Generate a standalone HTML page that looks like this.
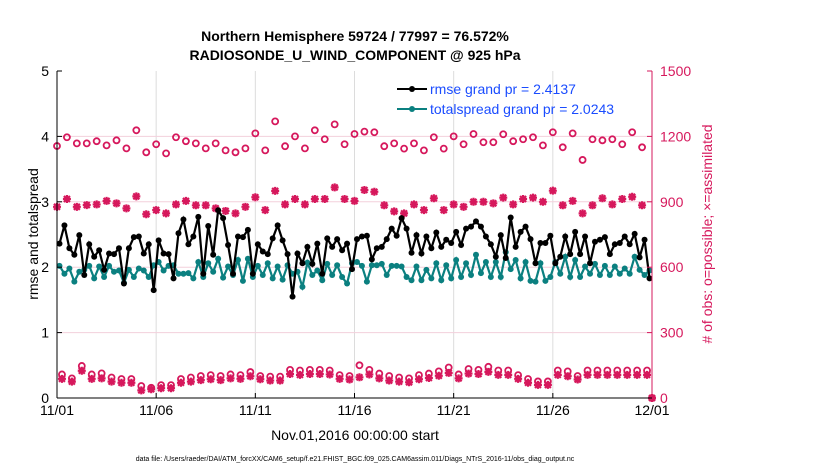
<!DOCTYPE html>
<html><head><meta charset="utf-8"><style>
body{margin:0;background:#fff;width:830px;height:470px;overflow:hidden;font-family:"Liberation Sans",sans-serif}
svg{display:block}
</style></head><body>
<svg id="chart" width="830" height="470">
<text x="355" y="41" text-anchor="middle" font-size="14" font-weight="bold">Northern Hemisphere 59724 / 77997 = 76.572%</text>
<text x="355" y="60" text-anchor="middle" font-size="14" font-weight="bold">RADIOSONDE_U_WIND_COMPONENT @ 925 hPa</text>
<g id="grid"></g>
<g id="marks"></g>
<g id="axes"></g>
<text x="0" y="0" transform="translate(38,234) rotate(-90)" text-anchor="middle" font-size="14">rmse and totalspread</text>
<text x="0" y="0" transform="translate(712,234) rotate(-90)" text-anchor="middle" font-size="14" fill="#d6185c"># of obs: o=possible; ×=assimilated</text>
<text x="355" y="440" text-anchor="middle" font-size="14">Nov.01,2016 00:00:00 start</text>
<text x="355" y="461" text-anchor="middle" font-size="7">data file: /Users/raeder/DAI/ATM_forcXX/CAM6_setup/f.e21.FHIST_BGC.f09_025.CAM6assim.011/Diags_NTrS_2016-11/obs_diag_output.nc</text>
<g>
<line x1="397" y1="89" x2="427" y2="89" stroke="#000" stroke-width="2"/>
<circle cx="412" cy="89" r="3" fill="#000"/>
<text x="430" y="94" font-size="14" fill="#1a4cff">rmse grand pr = 2.4137</text>
<line x1="397" y1="109" x2="427" y2="109" stroke="#0b8080" stroke-width="2"/>
<circle cx="412" cy="109" r="3" fill="#0b8080"/>
<text x="430" y="114" font-size="14" fill="#1a4cff">totalspread grand pr = 2.0243</text>
</g>
</svg>
<script>
const xTickLabels=["11/01","11/06","11/11","11/16","11/21","11/26","12/01"];
const xTickDays=[0,5,10,15,20,25,30];
const leftTicks=[0,1,2,3,4,5];
const rightTicks=[0,300,600,900,1200,1500];
const rmse=[2.36,2.64,2.29,2.19,2.49,1.88,2.35,2.16,2.26,1.96,2.21,2.20,2.29,1.75,2.29,2.46,2.47,2.21,2.35,1.65,2.41,2.21,2.20,1.83,2.52,2.73,2.35,2.47,2.77,1.90,2.63,2.19,2.87,2.75,2.34,1.90,2.47,2.46,2.57,1.90,2.35,2.24,2.20,2.44,2.64,2.41,2.20,1.55,2.21,2.06,2.31,2.05,2.36,1.90,2.44,2.31,2.43,2.26,
2.36,1.97,2.43,2.47,2.48,2.12,2.29,2.31,2.43,2.59,2.48,2.75,2.59,2.22,2.49,2.21,2.47,2.29,2.53,2.31,2.42,2.37,2.54,2.34,2.59,2.62,2.70,2.62,2.47,2.35,2.16,2.49,2.14,2.76,2.31,2.54,2.62,2.43,2.06,2.37,2.37,2.48,2.06,2.16,2.47,2.20,2.54,2.20,2.47,2.06,2.39,2.42,2.46,2.20,2.35,2.37,2.47,2.35,2.51,2.15,2.42,1.83];
const spread=[2.02,1.90,1.98,1.78,1.93,1.96,2.02,1.83,2.01,1.85,2.02,1.93,1.95,1.76,1.96,1.85,1.98,1.95,1.85,2.03,2.08,1.95,2.02,2.03,1.90,1.90,1.91,1.83,2.08,1.85,2.06,1.93,2.13,1.84,2.01,1.88,2.11,1.79,2.13,1.85,2.02,1.88,2.06,1.83,2.01,1.81,2.03,1.90,1.93,1.70,2.07,1.88,1.95,1.80,2.05,1.88,2.03,1.85,
1.75,2.06,2.08,2.02,1.78,2.03,2.03,2.05,1.88,2.02,2.02,2.01,1.85,1.80,2.01,1.80,1.96,1.83,2.06,1.80,2.03,1.83,2.11,1.85,2.06,1.88,2.19,1.91,2.08,1.85,2.08,1.85,2.23,1.97,2.11,1.83,2.08,1.79,1.78,2.06,1.79,1.85,2.08,1.90,2.16,1.85,2.11,1.85,2.01,1.90,2.05,1.88,2.02,1.88,2.01,1.90,1.98,1.90,2.16,1.96,1.88,1.95];
// obs at 00Z/12Z
const possibleMain=[1156,1196,1168,1168,1178,1159,1182,1145,1228,1127,1164,1122,1196,1178,1168,1145,1168,1136,1127,1145,1214,1136,1269,1155,1200,1145,1228,1187,1255,1164,1211,1222,1219,1155,1168,1144,1168,1136,1196,1144,1200,1164,1211,1173,1173,1210,1178,1187,1196,1159,1219,1150,1214,1092,1187,1182,1187,1164,1219,1150,0];
const assimMain=[877,913,877,885,888,904,893,870,925,843,862,847,888,904,884,884,870,858,847,877,921,862,950,888,913,888,913,913,966,913,904,954,946,884,856,847,888,862,916,862,888,877,900,900,893,919,888,913,919,900,951,884,904,847,884,916,888,913,923,884,0];
// obs at 06Z/18Z
const possibleOff=[108,90,147,108,113,94,87,87,55,47,59,59,87,94,101,105,101,108,105,119,101,98,98,129,126,129,129,126,105,101,150,129,112,101,94,90,105,112,122,140,108,133,129,143,126,126,105,87,76,76,126,122,101,126,126,126,126,126,126,126];
const assimOff=[88,75,125,88,90,75,70,70,35,40,45,45,70,75,82,86,82,90,88,100,86,80,80,110,106,110,110,108,88,85,95,108,90,80,75,72,86,92,102,115,90,112,110,120,106,106,88,70,60,60,106,100,85,106,106,106,106,106,106,106];

const NS="http://www.w3.org/2000/svg";
const X0=57,X1=652,Y0=398,Y1=71;
const xS=d=>X0+(d/30)*(X1-X0);
const yL=v=>Y0-(v/5)*(Y0-Y1);
const yR=v=>Y0-(v/1500)*(Y0-Y1);
const MAG="#d6185c",TEAL="#0b8080";
function mk(tag,attrs,parent){const e=document.createElementNS(NS,tag);for(const k in attrs)e.setAttribute(k,attrs[k]);parent.appendChild(e);return e;}
const grid=document.getElementById('grid'),marks=document.getElementById('marks'),axes=document.getElementById('axes');

xTickDays.forEach((d,i)=>{
  if(i>0&&i<xTickDays.length-1){const g=mk('line',{x1:xS(d),x2:xS(d),y1:Y1,y2:Y0,stroke:'#dcdcdc','stroke-width':1},grid);
  
  }
  const t=mk('text',{x:xS(d),y:Y0+17,'text-anchor':'middle','font-size':14},axes);t.textContent=xTickLabels[i];
  
  
  mk('line',{x1:xS(d),x2:xS(d),y1:Y0,y2:Y0-5,stroke:'#000'},axes);
});
rightTicks.forEach(v=>{
  if(v>0&&v<1500){const g=mk('line',{x1:X0,x2:X1,y1:yR(v),y2:yR(v),stroke:'#f3d0dc','stroke-width':1},grid);
  
  }
  mk('line',{x1:X1,x2:X1-5,y1:yR(v),y2:yR(v),stroke:MAG},axes);
  const t=mk('text',{x:X1+8,y:yR(v)+5,'font-size':14,fill:MAG},axes);t.textContent=v;
  
  
});
leftTicks.forEach(v=>{
  mk('line',{x1:X0,x2:X0+5,y1:yL(v),y2:yL(v),stroke:'#000'},axes);
  const t=mk('text',{x:X0-8,y:yL(v)+5,'font-size':14,'text-anchor':'end'},axes);t.textContent=v;
  
  
});
mk('line',{x1:X0,x2:X0,y1:Y1,y2:Y0,stroke:'#000'},axes);
mk('line',{x1:X1,x2:X1,y1:Y1,y2:Y0,stroke:MAG},axes);
mk('line',{x1:X0,x2:X1,y1:Y0,y2:Y0,stroke:'#000'},axes);

function circ(cx,cy,name){const c=mk('circle',{cx:cx,cy:cy,r:3,fill:'none',stroke:MAG,'stroke-width':1.8},marks);
  
  }
function star(cx,cy,name){const s=4;const g=mk('path',{d:`M${cx-s},${cy}H${cx+s}M${cx},${cy-s}V${cy+s}M${cx-3},${cy-3}L${cx+3},${cy+3}M${cx-3},${cy+3}L${cx+3},${cy-3}`,stroke:MAG,'stroke-width':2.2},marks);
  
  }
possibleMain.forEach((v,i)=>circ(xS(i*0.5),yR(v),'possible-obs-point'));
assimMain.forEach((v,i)=>star(xS(i*0.5),yR(v),'assimilated-obs-point'));
possibleOff.forEach((v,i)=>circ(xS(0.25+i*0.5),yR(v),'possible-obs-point'));
assimOff.forEach((v,i)=>star(xS(0.25+i*0.5),yR(v),'assimilated-obs-point'));

function series(arr,color,name){
  const pts=arr.map((v,i)=>[xS(0.125+i*0.25),yL(v)]);
  const p=mk('polyline',{points:pts.map(p=>p.join(',')).join(' '),fill:'none',stroke:color,'stroke-width':2.2},marks);
  
  
  pts.forEach(q=>{const c=mk('circle',{cx:q[0],cy:q[1],r:3,fill:color},marks);
    
    });
}
series(spread,TEAL,'totalspread');
series(rmse,'#000','rmse');
</script>
</body></html>
